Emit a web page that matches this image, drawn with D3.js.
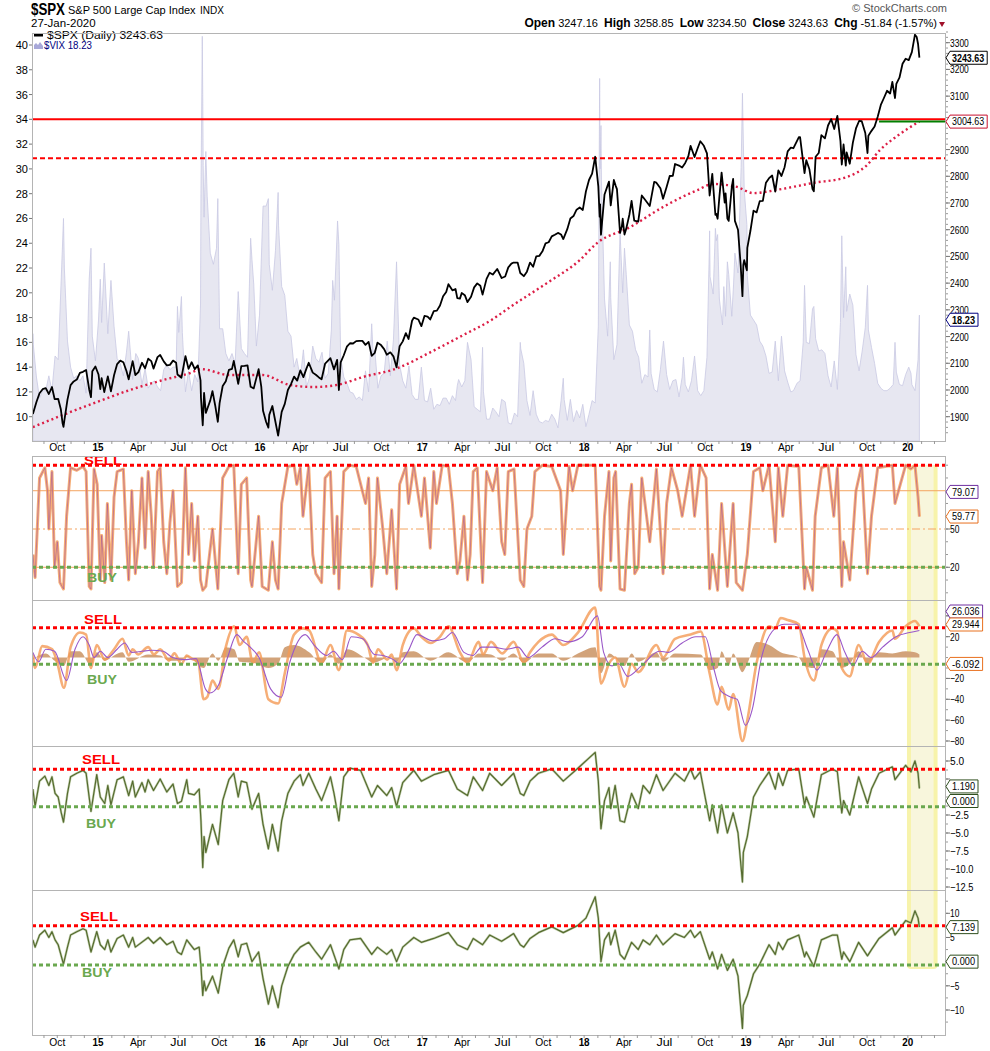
<!DOCTYPE html>
<html>
<head>
<meta charset="utf-8">
<script src="https://cdnjs.cloudflare.com/ajax/libs/d3/7.8.5/d3.min.js"></script>
<style>
  body { margin: 0; background: #fff; }
  svg { display: block; }
  text { font-family: "Liberation Sans", Arial, sans-serif; }
</style>
</head>
<body>
<svg id="chart"></svg>
<script>
// ---- data (dates as yy-mm-dd) ----
const spx = [
["14-08-07",1910],["14-08-15",1955],["14-08-22",1988],["14-08-29",2003],["14-09-05",2007],["14-09-12",1985],["14-09-19",2011],["14-09-25",1966],["14-10-03",1967],["14-10-09",1928],["14-10-13",1875],["14-10-15",1862],["14-10-17",1886],["14-10-24",1964],["14-10-31",2018],["14-11-07",2032],["14-11-14",2039],["14-11-21",2064],["14-11-28",2068],["14-12-05",2075],["14-12-12",2002],["14-12-16",1973],["14-12-19",2070],["14-12-26",2088],
["15-01-02",2058],["15-01-06",2003],["15-01-09",2044],["15-01-15",1992],["15-01-23",2051],["15-01-30",1995],["15-02-06",2055],["15-02-13",2097],["15-02-20",2110],["15-02-27",2104],["15-03-06",2071],["15-03-11",2040],["15-03-20",2108],["15-03-26",2056],["15-04-02",2067],["15-04-10",2102],["15-04-17",2081],["15-04-24",2117],["15-05-01",2108],["15-05-06",2080],["15-05-15",2123],["15-05-21",2131],["15-05-29",2107],["15-06-05",2092],["15-06-12",2094],["15-06-19",2110],["15-06-26",2102],["15-06-29",2058],["15-07-08",2046],["15-07-17",2127],["15-07-24",2079],["15-07-31",2104],["15-08-07",2078],["15-08-14",2092],["15-08-20",2036],["15-08-21",1971],["15-08-25",1868],["15-08-28",1989],["15-09-01",1914],["15-09-11",1961],["15-09-16",1996],["15-09-22",1943],["15-09-28",1881],["15-10-02",1951],["15-10-09",2015],["15-10-16",2033],["15-10-23",2075],["15-10-30",2079],["15-11-03",2109],["15-11-13",2023],["15-11-20",2089],["15-11-27",2090],["15-12-04",2092],["15-12-11",2012],["15-12-18",2006],["15-12-29",2078],
["16-01-04",2013],["16-01-08",1922],["16-01-15",1880],["16-01-20",1859],["16-01-22",1907],["16-01-29",1940],["16-02-05",1880],["16-02-11",1829],["16-02-19",1918],["16-02-26",1948],["16-03-04",2000],["16-03-11",2022],["16-03-18",2050],["16-03-25",2035],["16-04-01",2073],["16-04-08",2048],["16-04-15",2081],["16-04-20",2102],["16-04-29",2065],["16-05-06",2057],["16-05-13",2047],["16-05-19",2040],["16-05-27",2099],["16-06-08",2119],["16-06-16",2077],["16-06-23",2113],["16-06-27",2000],["16-07-01",2103],["16-07-08",2130],["16-07-15",2162],["16-07-22",2175],["16-07-29",2174],["16-08-05",2183],["16-08-12",2184],["16-08-19",2184],["16-08-26",2169],["16-09-02",2180],["16-09-09",2128],["16-09-16",2139],["16-09-22",2177],["16-09-30",2168],["16-10-07",2153],["16-10-13",2132],["16-10-21",2141],["16-10-28",2126],["16-11-04",2085],["16-11-11",2164],["16-11-18",2182],["16-11-25",2213],["16-12-01",2191],["16-12-09",2259],["16-12-13",2271],["16-12-23",2264],["16-12-30",2239],
["17-01-06",2277],["17-01-13",2275],["17-01-19",2264],["17-01-27",2295],["17-02-03",2297],["17-02-10",2316],["17-02-17",2351],["17-02-24",2367],["17-03-01",2396],["17-03-10",2373],["17-03-17",2378],["17-03-21",2344],["17-03-27",2342],["17-03-31",2363],["17-04-07",2355],["17-04-13",2329],["17-04-21",2349],["17-04-28",2384],["17-05-05",2399],["17-05-12",2390],["17-05-17",2357],["17-05-26",2416],["17-06-02",2439],["17-06-09",2432],["17-06-19",2453],["17-06-29",2419],["17-07-07",2425],["17-07-14",2459],["17-07-21",2473],["17-07-26",2477],["17-08-04",2477],["17-08-10",2438],["17-08-18",2426],["17-08-25",2443],["17-09-01",2477],["17-09-08",2461],["17-09-15",2500],["17-09-22",2502],["17-09-29",2519],["17-10-06",2549],["17-10-13",2553],["17-10-20",2575],["17-10-27",2581],["17-11-03",2588],["17-11-10",2582],["17-11-15",2565],["17-11-24",2602],["17-12-01",2642],["17-12-08",2651],["17-12-15",2675],["17-12-22",2683],["17-12-29",2674],
["18-01-05",2743],["18-01-12",2786],["18-01-19",2810],["18-01-26",2873],["18-02-02",2762],["18-02-05",2649],["18-02-06",2695],["18-02-08",2581],["18-02-16",2732],["18-02-26",2780],["18-03-02",2691],["18-03-09",2786],["18-03-13",2765],["18-03-16",2752],["18-03-23",2588],["18-03-27",2612],["18-03-29",2641],["18-04-02",2582],["18-04-06",2604],["18-04-13",2656],["18-04-18",2708],["18-04-24",2634],["18-05-03",2630],["18-05-11",2728],["18-05-18",2713],["18-05-29",2689],["18-06-08",2779],["18-06-13",2776],["18-06-22",2755],["18-06-28",2716],["18-07-06",2760],["18-07-13",2801],["18-07-20",2802],["18-07-25",2846],["18-08-03",2840],["18-08-10",2833],["18-08-17",2850],["18-08-24",2875],["18-08-29",2914],["18-09-07",2872],["18-09-14",2905],["18-09-20",2931],["18-09-28",2914],["18-10-05",2886],["18-10-11",2728],["18-10-17",2809],["18-10-24",2656],["18-10-26",2659],["18-10-29",2641],["18-11-02",2723],["18-11-07",2814],["18-11-14",2701],["18-11-16",2736],["18-11-20",2642],["18-11-23",2633],["18-11-30",2760],["18-12-03",2790],["18-12-07",2633],["18-12-14",2600],["18-12-20",2467],["18-12-24",2351],["18-12-26",2468],["18-12-28",2486],
["19-01-03",2448],["19-01-04",2532],["19-01-11",2596],["19-01-18",2671],["19-01-25",2665],["19-02-01",2707],["19-02-08",2708],["19-02-15",2776],["19-02-22",2793],["19-03-01",2803],["19-03-08",2743],["19-03-15",2822],["19-03-22",2801],["19-03-29",2834],["19-04-05",2893],["19-04-12",2907],["19-04-18",2905],["19-04-30",2946],["19-05-03",2946],["19-05-13",2812],["19-05-17",2860],["19-05-24",2826],["19-05-31",2752],["19-06-03",2744],["19-06-07",2873],["19-06-14",2887],["19-06-20",2954],["19-06-28",2942],["19-07-05",2990],["19-07-12",3014],["19-07-19",2977],["19-07-26",3026],["19-08-02",2932],["19-08-05",2844],["19-08-09",2919],["19-08-14",2840],["19-08-16",2889],["19-08-23",2847],["19-08-30",2926],["19-09-06",2979],["19-09-13",3007],["19-09-19",3006],["19-09-27",2962],["19-10-02",2887],["19-10-04",2952],["19-10-11",2970],["19-10-18",2986],["19-10-25",3023],["19-11-01",3067],["19-11-08",3093],["19-11-15",3120],["19-11-22",3110],["19-11-27",3153],["19-12-03",3093],["19-12-06",3146],["19-12-13",3169],["19-12-20",3221],["19-12-27",3240],
["20-01-03",3235],["20-01-10",3265],["20-01-17",3330],["20-01-21",3321],["20-01-24",3295],["20-01-27",3244]
];

const spxMa200 = [
["14-08-07",1861],["14-10-13",1906],["14-12-29",1955],["15-03-14",2000],["15-05-27",2037],["15-07-27",2063],["15-08-22",2078],["15-10-24",2056],["16-01-07",2056],["16-03-08",2019],["16-04-29",2011],["16-06-23",2019],["16-08-21",2049],["16-11-05",2081],["17-01-19",2141],["17-04-04",2206],["17-06-04",2260],["17-07-25",2318],["17-10-09",2400],["17-12-22",2486],["18-01-30",2550],["18-04-15",2610],["18-06-28",2685],["18-09-13",2748],["18-10-19",2771],["18-12-12",2760],["19-01-17",2737],["19-03-18",2751],["19-06-01",2775],["19-08-16",2797],["19-10-01",2842],["19-10-30",2898],["19-12-08",2951],["20-01-27",3005]
];

const vix = [
["14-08-07",16.7],["14-08-08",15.8],["14-08-15",13.2],["14-08-22",11.5],["14-08-29",12.1],["14-09-05",12.1],["14-09-12",13.3],["14-09-19",12.1],["14-09-26",14.9],["14-10-03",14.6],["14-10-10",21.2],["14-10-15",26.0],["14-10-17",22.0],["14-10-24",16.1],["14-10-31",14.0],["14-11-07",13.1],["14-11-14",13.3],["14-11-21",12.9],["14-11-28",13.3],["14-12-05",11.9],["14-12-12",21.1],["14-12-16",23.6],["14-12-19",16.5],["14-12-26",14.5],
["15-01-02",17.8],["15-01-06",21.1],["15-01-09",17.6],["15-01-15",22.4],["15-01-23",16.7],["15-01-30",21.0],["15-02-06",17.3],["15-02-13",14.7],["15-02-20",14.3],["15-02-27",13.3],["15-03-06",15.2],["15-03-11",16.9],["15-03-20",13.0],["15-03-27",15.1],["15-04-02",14.7],["15-04-10",12.6],["15-04-17",13.9],["15-04-24",12.3],["15-05-01",12.7],["15-05-08",12.9],["15-05-15",12.4],["15-05-22",12.1],["15-05-29",13.8],["15-06-05",14.2],["15-06-12",13.8],["15-06-19",14.0],["15-06-26",14.0],["15-06-29",18.9],["15-07-02",16.8],["15-07-08",19.7],["15-07-10",16.8],["15-07-17",12.0],["15-07-24",13.7],["15-07-31",12.1],["15-08-07",13.4],["15-08-14",12.8],["15-08-20",19.1],["15-08-21",28.0],["15-08-24",40.7],["15-08-25",36.0],["15-08-26",30.3],["15-08-28",26.1],["15-09-01",31.4],["15-09-04",27.8],["15-09-11",23.2],["15-09-18",22.3],["15-09-25",23.6],["15-09-28",27.6],["15-10-02",17.1],["15-10-09",17.1],["15-10-16",15.1],["15-10-23",14.5],["15-10-30",15.1],["15-11-06",14.3],["15-11-13",20.1],["15-11-20",15.5],["15-11-27",15.1],["15-12-04",14.8],["15-12-11",24.4],["15-12-14",22.7],["15-12-18",20.7],["15-12-24",15.7],["15-12-31",18.2],
["16-01-08",27.0],["16-01-15",27.0],["16-01-20",27.6],["16-01-22",22.3],["16-01-29",20.2],["16-02-05",23.4],["16-02-11",28.1],["16-02-12",25.4],["16-02-19",20.5],["16-02-26",19.8],["16-03-04",16.9],["16-03-11",16.5],["16-03-18",14.0],["16-03-24",14.7],["16-04-01",13.1],["16-04-08",15.4],["16-04-15",12.4],["16-04-22",13.2],["16-04-29",15.7],["16-05-06",14.7],["16-05-13",14.4],["16-05-20",15.2],["16-05-27",13.1],["16-06-03",13.5],["16-06-10",17.0],["16-06-13",21.0],["16-06-17",19.4],["16-06-24",25.8],["16-06-27",23.9],["16-07-01",14.8],["16-07-08",13.2],["16-07-15",12.7],["16-07-22",12.0],["16-07-29",11.9],["16-08-05",11.4],["16-08-12",11.6],["16-08-19",11.3],["16-08-26",13.7],["16-09-02",12.0],["16-09-09",17.5],["16-09-12",15.2],["16-09-16",15.4],["16-09-23",12.3],["16-09-30",13.3],["16-10-07",13.5],["16-10-14",16.1],["16-10-21",13.3],["16-10-28",16.2],["16-11-04",22.5],["16-11-11",14.2],["16-11-18",12.9],["16-11-25",12.3],["16-12-02",14.1],["16-12-09",11.8],["16-12-16",11.4],["16-12-23",11.4],["16-12-30",14.0],
["17-01-06",11.3],["17-01-13",11.2],["17-01-20",12.3],["17-01-27",10.6],["17-02-03",11.0],["17-02-10",10.9],["17-02-17",11.5],["17-02-24",11.5],["17-03-03",11.0],["17-03-10",11.7],["17-03-17",11.3],["17-03-21",12.5],["17-03-24",13.0],["17-03-31",12.4],["17-04-07",12.9],["17-04-13",16.0],["17-04-21",14.6],["17-04-28",10.8],["17-05-05",10.6],["17-05-12",10.4],["17-05-17",15.6],["17-05-19",12.0],["17-05-26",9.8],["17-06-02",9.8],["17-06-09",10.7],["17-06-16",10.4],["17-06-23",10.0],["17-06-29",11.4],["17-07-07",11.2],["17-07-14",9.5],["17-07-21",9.4],["17-07-28",10.3],["17-08-04",10.0],["17-08-10",16.0],["17-08-11",15.5],["17-08-18",14.3],["17-08-25",11.3],["17-09-01",10.1],["17-09-08",12.1],["17-09-15",10.2],["17-09-22",9.6],["17-09-29",9.5],["17-10-06",9.7],["17-10-13",9.6],["17-10-20",10.2],["17-10-27",9.8],["17-11-03",9.1],["17-11-10",11.3],["17-11-15",13.1],["17-11-17",11.4],["17-11-24",9.7],["17-12-01",11.4],["17-12-08",9.6],["17-12-15",10.5],["17-12-22",9.9],["17-12-29",11.0],
["18-01-05",9.2],["18-01-12",10.2],["18-01-19",11.3],["18-01-26",11.1],["18-02-02",17.3],["18-02-05",37.3],["18-02-06",30.0],["18-02-08",33.5],["18-02-09",29.1],["18-02-16",19.5],["18-02-23",16.5],["18-03-01",22.5],["18-03-02",19.6],["18-03-09",14.6],["18-03-16",15.8],["18-03-23",24.9],["18-03-29",20.0],["18-04-02",23.6],["18-04-06",21.5],["18-04-13",17.4],["18-04-20",16.9],["18-04-27",15.4],["18-05-04",14.8],["18-05-11",12.7],["18-05-18",13.4],["18-05-25",13.2],["18-05-29",17.0],["18-06-01",13.5],["18-06-08",12.2],["18-06-15",12.0],["18-06-22",13.8],["18-06-29",16.1],["18-07-06",13.4],["18-07-13",12.2],["18-07-20",12.9],["18-07-27",13.0],["18-08-03",11.6],["18-08-10",13.2],["18-08-13",14.8],["18-08-17",12.6],["18-08-24",12.0],["18-08-31",12.9],["18-09-07",14.9],["18-09-14",12.1],["18-09-21",11.7],["18-09-28",12.1],["18-10-05",14.8],["18-10-10",23.0],["18-10-11",25.0],["18-10-12",21.3],["18-10-19",19.9],["18-10-24",25.2],["18-10-26",24.2],["18-10-29",24.7],["18-11-02",19.5],["18-11-09",17.4],["18-11-12",20.5],["18-11-16",18.1],["18-11-20",22.5],["18-11-23",21.5],["18-11-30",18.1],["18-12-04",20.7],["18-12-07",23.2],["18-12-14",21.6],["18-12-21",30.1],["18-12-24",36.1],["18-12-28",28.3],
["19-01-03",25.5],["19-01-04",21.4],["19-01-11",18.2],["19-01-18",17.8],["19-01-25",17.4],["19-02-01",16.1],["19-02-08",15.7],["19-02-15",14.9],["19-02-22",13.5],["19-03-01",13.6],["19-03-08",16.1],["19-03-15",12.9],["19-03-22",16.5],["19-03-29",13.7],["19-04-05",12.8],["19-04-12",12.0],["19-04-18",12.1],["19-04-26",12.7],["19-05-03",12.9],["19-05-10",16.0],["19-05-13",20.6],["19-05-17",16.0],["19-05-24",15.9],["19-05-31",18.7],["19-06-03",18.9],["19-06-07",16.3],["19-06-14",15.3],["19-06-21",15.4],["19-06-28",15.1],["19-07-05",13.3],["19-07-12",12.4],["19-07-19",14.5],["19-07-26",12.2],["19-08-02",17.6],["19-08-05",24.6],["19-08-09",18.0],["19-08-14",22.1],["19-08-16",18.5],["19-08-23",19.9],["19-08-30",19.0],["19-09-06",15.0],["19-09-13",13.7],["19-09-20",15.3],["19-09-27",17.2],["19-10-02",20.6],["19-10-04",17.0],["19-10-11",15.6],["19-10-18",14.3],["19-10-25",12.7],["19-11-01",12.3],["19-11-08",12.1],["19-11-15",12.1],["19-11-22",12.3],["19-11-29",12.6],["19-12-03",16.0],["19-12-06",13.6],["19-12-13",12.6],["19-12-20",12.5],["19-12-27",13.4],
["20-01-03",14.0],["20-01-08",13.5],["20-01-10",12.6],["20-01-17",12.1],["20-01-24",14.6],["20-01-27",18.2]
];

// panel 2 oscillator (0-100)
const osc = [
["14-08-07",30],["14-08-12",12],["14-08-22",90],["14-09-03",98],["14-09-09",80],["14-09-12",50],["14-09-19",95],["14-09-25",20],["14-10-01",40],["14-10-07",8],["14-10-15",3],["14-10-22",60],["14-10-31",98],["14-11-14",96],["14-11-28",99],["14-12-05",95],["14-12-12",5],["14-12-16",3],["14-12-23",97],["14-12-30",85],
["15-01-06",10],["15-01-09",45],["15-01-16",8],["15-01-22",70],["15-01-30",10],["15-02-06",75],["15-02-13",95],["15-02-27",97],["15-03-06",40],["15-03-11",10],["15-03-18",80],["15-03-26",15],["15-04-02",40],["15-04-10",90],["15-04-17",35],["15-04-24",95],["15-05-01",60],["15-05-06",20],["15-05-15",95],["15-05-21",98],["15-05-29",40],["15-06-05",15],["15-06-12",55],["15-06-19",80],["15-06-29",5],["15-07-08",8],["15-07-17",98],["15-07-24",30],["15-07-31",70],["15-08-06",25],["15-08-14",60],["15-08-20",10],["15-08-25",2],["15-09-01",5],["15-09-16",50],["15-09-28",3],["15-10-09",90],["15-10-23",99],["15-11-03",100],["15-11-13",15],["15-11-20",85],["15-12-02",90],["15-12-11",10],["15-12-14",5],["15-12-29",60],
["16-01-06",5],["16-01-20",2],["16-01-29",40],["16-02-05",10],["16-02-11",3],["16-02-19",70],["16-03-04",99],["16-03-18",100],["16-03-24",85],["16-04-01",98],["16-04-07",60],["16-04-20",99],["16-04-29",30],["16-05-06",15],["16-05-19",8],["16-05-27",90],["16-06-08",95],["16-06-16",15],["16-06-23",60],["16-06-27",3],["16-07-08",95],["16-07-22",100],["16-08-05",99],["16-08-26",70],["16-09-02",90],["16-09-09",5],["16-09-16",30],["16-09-22",90],["16-10-04",50],["16-10-13",15],["16-10-24",65],["16-11-04",3],["16-11-11",85],["16-11-25",99],["16-12-01",70],["16-12-13",100],["16-12-30",60],
["17-01-06",90],["17-01-19",35],["17-01-27",95],["17-02-02",70],["17-02-15",100],["17-03-01",99],["17-03-10",70],["17-03-21",15],["17-03-27",25],["17-04-05",60],["17-04-13",10],["17-04-19",30],["17-04-26",95],["17-05-05",98],["17-05-17",8],["17-05-26",95],["17-06-09",80],["17-06-19",98],["17-06-29",40],["17-07-06",30],["17-07-14",95],["17-07-27",97],["17-08-10",10],["17-08-18",5],["17-08-25",50],["17-09-05",60],["17-09-12",95],["17-09-29",100],["17-10-20",99],["17-11-09",80],["17-11-15",30],["17-11-28",99],["17-12-06",80],["17-12-18",100],
["18-01-26",100],["18-02-05",5],["18-02-08",2],["18-02-16",60],["18-02-26",95],["18-03-02",25],["18-03-09",90],["18-03-13",95],["18-03-23",3],["18-04-02",2],["18-04-13",70],["18-04-18",85],["18-04-25",15],["18-05-03",20],["18-05-11",90],["18-05-29",40],["18-06-13",97],["18-06-28",15],["18-07-06",70],["18-07-17",98],["18-07-31",80],["18-08-10",60],["18-08-29",100],["18-09-07",60],["18-09-20",100],["18-10-03",90],["18-10-11",3],["18-10-17",30],["18-10-29",2],["18-11-07",70],["18-11-20",5],["18-12-03",70],["18-12-10",8],["18-12-24",2],
["19-01-04",30],["19-01-18",95],["19-02-01",98],["19-02-08",80],["19-02-22",100],["19-03-08",40],["19-03-15",98],["19-03-25",60],["19-04-05",100],["19-04-30",99],["19-05-13",3],["19-05-17",20],["19-05-31",2],["19-06-06",60],["19-06-20",98],["19-07-05",100],["19-07-18",60],["19-07-26",98],["19-08-05",5],["19-08-09",40],["19-08-23",10],["19-09-06",80],["19-09-19",100],["19-10-02",15],["19-10-11",60],["19-10-25",98],["19-11-27",100],["19-12-03",70],["19-12-27",100],
["20-01-08",97],["20-01-17",100],["20-01-24",75],["20-01-27",59.77]
];

// panel 3: line, signal and histogram
const macd = [
["14-08-07",3],["14-08-12",-10],["14-08-28",11],["14-09-19",8],["14-10-01",-5],["14-10-16",-29],["14-10-31",10],["14-11-21",24],["14-12-05",22],["14-12-16",-10],["14-12-29",12],["15-01-16",-2],["15-02-06",8],["15-02-25",18],["15-03-11",2],["15-03-20",8],["15-04-01",3],["15-04-24",10],["15-05-07",3],["15-05-21",8],["15-06-10",-3],["15-06-22",4],["15-07-08",-6],["15-07-20",2],["15-08-04",-2],["15-08-14",-3],["15-08-27",-40],["15-09-04",-38],["15-09-16",-22],["15-09-29",-30],["15-10-16",10],["15-11-04",30],["15-11-16",12],["15-12-02",20],["15-12-16",-5],["15-12-30",5],["16-01-20",-40],["16-02-11",-44],["16-02-26",-15],["16-03-18",22],["16-04-07",28],["16-04-21",26],["16-05-19",-5],["16-06-08",12],["16-06-27",-12],["16-07-15",26],["16-08-10",22],["16-08-31",12],["16-09-12",-5],["16-09-23",8],["16-10-14",-2],["16-10-24",3],["16-11-04",-12],["16-11-18",12],["16-12-13",28],["16-12-30",20],["17-01-20",14],["17-02-10",20],["17-03-01",30],["17-03-27",5],["17-04-13",-5],["17-05-08",15],["17-05-18",3],["17-06-05",15],["17-06-30",4],["17-07-26",15],["17-08-18",-5],["17-09-01",5],["17-09-20",15],["17-10-20",22],["17-11-15",12],["17-12-18",24],["18-01-26",48],["18-02-08",-25],["18-02-27",-5],["18-03-12",0],["18-04-02",-28],["18-04-18",-6],["18-05-03",-14],["18-06-13",12],["18-06-28",0],["18-07-25",18],["18-08-29",22],["18-09-21",25],["18-10-11",-15],["18-10-29",-45],["18-11-07",-28],["18-11-23",-50],["18-12-03",-35],["18-12-24",-80],["19-01-04",-60],["19-01-25",-5],["19-02-22",30],["19-03-08",28],["19-03-20",38],["19-04-05",36],["19-04-30",32],["19-05-13",0],["19-06-03",-22],["19-06-20",12],["19-07-15",28],["19-07-26",25],["19-08-05",-10],["19-08-23",-18],["19-09-12",12],["19-10-02",-6],["19-10-28",15],["19-11-27",26],["19-12-03",18],["19-12-27",30],["20-01-17",35],["20-01-27",29.9]
];
const macdSignal = [
["14-08-07",5],["14-08-20",-4],["14-09-05",8],["14-09-25",6],["14-10-22",-22],["14-11-10",8],["14-11-28",20],["14-12-12",12],["14-12-23",0],["15-01-06",6],["15-01-23",0],["15-02-13",8],["15-03-02",14],["15-03-18",5],["15-04-10",6],["15-05-01",7],["15-05-28",6],["15-06-18",0],["15-07-14",-2],["15-08-10",-1],["15-08-31",-30],["15-09-10",-34],["15-09-30",-26],["15-10-20",0],["15-11-10",22],["15-11-24",16],["15-12-10",10],["15-12-30",0],["16-01-25",-30],["16-02-18",-38],["16-03-08",-5],["16-04-12",22],["16-05-02",12],["16-05-30",2],["16-06-15",6],["16-07-05",-2],["16-07-25",20],["16-08-20",18],["16-09-15",3],["16-10-05",2],["16-10-28",-2],["16-11-10",-6],["16-11-30",6],["16-12-20",22],["17-01-25",16],["17-02-20",18],["17-03-10",24],["17-04-05",5],["17-04-25",2],["17-05-15",10],["17-06-10",10],["17-07-10",8],["17-08-05",10],["17-08-28",0],["17-09-28",10],["17-10-28",18],["17-11-25",15],["17-12-28",20],["18-01-31",40],["18-02-14",5],["18-03-05",-8],["18-03-20",-6],["18-04-09",-18],["18-05-10",-8],["18-06-20",6],["18-07-10",5],["18-08-10",14],["18-09-10",20],["18-10-01",20],["18-10-20",-10],["18-11-05",-32],["18-11-28",-38],["18-12-12",-40],["18-12-31",-65],["19-01-15",-50],["19-02-05",0],["19-03-01",25],["19-03-28",32],["19-04-25",32],["19-05-20",8],["19-06-10",-12],["19-07-01",5],["19-07-25",22],["19-08-12",5],["19-08-30",-8],["19-09-20",6],["19-10-10",0],["19-11-05",10],["19-12-05",20],["20-01-05",24],["20-01-27",26]
];
const macdHist = [
["14-08-07",-2],["14-08-20",2],["14-09-05",4],["14-09-25",-3],["14-10-16",-8],["14-10-31",6],["14-11-21",6],["14-12-16",-8],["14-12-29",5],["15-01-16",-3],["15-02-06",2],["15-02-25",5],["15-03-11",-4],["15-04-24",3],["15-05-21",2],["15-06-10",-3],["15-07-08",-3],["15-07-20",2],["15-08-27",-10],["15-09-16",4],["15-09-29",-3],["15-10-16",10],["15-11-04",8],["15-11-16",-4],["15-12-16",-5],["16-01-20",-10],["16-02-11",-6],["16-02-26",10],["16-03-18",12],["16-04-21",5],["16-05-19",-6],["16-06-08",3],["16-06-27",-6],["16-07-15",8],["16-08-31",-2],["16-09-12",-5],["16-10-24",1],["16-11-04",-5],["16-11-18",5],["16-12-13",6],["17-01-20",-3],["17-03-01",5],["17-04-13",-5],["17-05-08",4],["17-06-05",3],["17-06-30",-3],["17-07-26",4],["17-08-18",-5],["17-09-20",4],["17-10-20",4],["17-11-15",-3],["17-12-18",4],["18-01-26",10],["18-02-08",-15],["18-02-27",4],["18-04-02",-8],["18-04-18",4],["18-05-03",-4],["18-06-13",5],["18-06-28",-4],["18-07-25",4],["18-09-21",3],["18-10-11",-12],["18-10-29",-10],["18-11-07",6],["18-11-23",-8],["18-12-03",4],["18-12-24",-14],["19-01-04",-6],["19-01-25",15],["19-02-22",12],["19-03-20",5],["19-04-30",0],["19-05-13",-8],["19-06-03",-10],["19-06-20",8],["19-07-15",6],["19-08-05",-10],["19-08-23",-6],["19-09-12",6],["19-10-02",-6],["19-10-28",5],["19-11-27",4],["19-12-27",6],["20-01-17",5],["20-01-27",3]
];

// panel 4
const osc4 = [
["14-08-07",1.1],["14-08-12",-1.3],["14-08-22",2.2],["14-09-03",2.9],["14-09-12",1.6],["14-09-19",2.8],["14-09-26",0.5],["14-10-03",0],["14-10-10",-2.2],["14-10-15",-3.5],["14-10-24",0.5],["14-10-31",2.8],["14-11-14",3.3],["14-11-28",3.7],["14-12-05",3.3],["14-12-16",-2],["14-12-29",3.1],
["15-01-06",0],["15-01-16",-0.9],["15-01-23",1.6],["15-01-30",-1.1],["15-02-13",2.4],["15-02-27",2.8],["15-03-11",0.2],["15-03-20",2.2],["15-03-26",0],["15-04-10",2],["15-04-17",0.7],["15-04-24",2.4],["15-05-06",0.9],["15-05-21",2.5],["15-06-05",0.7],["15-06-19",1.8],["15-06-29",-0.9],["15-07-08",-0.6],["15-07-20",2.4],["15-07-24",0.5],["15-08-06",0.3],["15-08-17",1.1],["15-08-21",-3.3],["15-08-25",-9.8],["15-08-28",-5.5],["15-09-01",-7.7],["15-09-16",-3.8],["15-09-29",-6.6],["15-10-09",-0.5],["15-10-23",2.4],["15-11-03",3.3],["15-11-13",0],["15-11-20",2.2],["15-12-02",2],["15-12-14",-1.7],["15-12-29",0.5],
["16-01-08",-3.8],["16-01-20",-7.2],["16-01-29",-3.8],["16-02-11",-7.5],["16-02-19",-3.3],["16-03-04",0.5],["16-03-18",2.2],["16-04-01",3.1],["16-04-07",1.6],["16-04-20",3.3],["16-05-06",1.1],["16-05-19",-0.5],["16-06-08",2.8],["16-06-16",0.5],["16-06-27",-3.3],["16-07-08",2.8],["16-07-22",4],["16-08-15",3.7],["16-09-09",0],["16-09-22",1.6],["16-10-13",0.2],["16-10-24",1.3],["16-11-04",-1.3],["16-11-18",2],["16-12-13",3.7],["16-12-30",2.2],
["17-01-27",3.1],["17-03-01",3.7],["17-03-21",1.1],["17-04-13",0.2],["17-04-26",2.8],["17-05-17",0.9],["17-06-02",3.3],["17-06-29",1.6],["17-07-26",3.3],["17-08-10",0.5],["17-08-18",0.2],["17-09-01",2.2],["17-09-20",3.3],["17-10-20",3.9],["17-11-15",2.2],["17-12-18",4],
["18-01-26",6.2],["18-02-02",2.2],["18-02-08",-4.4],["18-02-16",-0.5],["18-02-26",1.3],["18-03-02",-1.6],["18-03-12",1.6],["18-03-23",-3.3],["18-04-02",-3.5],["18-04-18",0.5],["18-05-03",-1.6],["18-05-14",1.6],["18-05-29",0.5],["18-06-13",3.1],["18-06-28",0.9],["18-07-25",3.3],["18-08-15",2.2],["18-08-29",3.9],["18-09-07",2.5],["18-09-20",3.5],["18-10-11",-3.3],["18-10-17",-1.1],["18-10-29",-5],["18-11-07",-1.1],["18-11-20",-5],["18-12-03",-2.2],["18-12-14",-5],["18-12-24",-11.8],["18-12-26",-7.7],
["19-01-04",-5.5],["19-01-18",0],["19-02-01",1.6],["19-02-22",3.5],["19-03-08",1.1],["19-03-15",3.3],["19-03-25",1.6],["19-04-05",3.7],["19-04-30",3.9],["19-05-13",-1.1],["19-05-17",0],["19-06-03",-2.8],["19-06-20",3.1],["19-07-15",3.9],["19-07-26",3.5],["19-08-05",-2.2],["19-08-09",-0.5],["19-08-23",-2.5],["19-09-12",2.8],["19-10-02",-0.9],["19-10-11",1.1],["19-10-28",3.3],["19-11-27",4.2],["19-12-03",2.4],["19-12-27",4.4],
["20-01-08",3.5],["20-01-17",5],["20-01-24",3.3],["20-01-27",1.19]
];

// panel 5
const osc5 = [
["14-08-07",4.5],["14-08-12",3],["14-08-22",5.5],["14-09-03",6.5],["14-09-12",5],["14-09-19",6.2],["14-09-26",4.5],["14-10-03",3.5],["14-10-15",-0.5],["14-10-24",3],["14-10-31",5.5],["14-11-14",6.2],["14-11-28",6.8],["14-12-05",6.5],["14-12-16",2],["14-12-29",6.2],
["15-01-06",3.5],["15-01-16",2.5],["15-01-23",4.5],["15-01-30",2],["15-02-13",4.8],["15-02-27",5.5],["15-03-11",3],["15-03-20",5],["15-03-26",3],["15-04-24",5],["15-05-06",3.8],["15-05-21",5],["15-06-05",3.5],["15-06-19",4.2],["15-06-29",2],["15-07-08",1.5],["15-07-20",4.5],["15-08-06",2.5],["15-08-17",3],["15-08-21",-1],["15-08-25",-7],["15-08-28",-4],["15-09-01",-6],["15-09-16",-3],["15-09-29",-6.5],["15-10-09",-1],["15-10-23",2.8],["15-11-03",4.5],["15-11-13",1],["15-11-20",3.5],["15-12-02",3.8],["15-12-14",0],["15-12-29",2],
["16-01-08",-3.5],["16-01-20",-8.8],["16-01-29",-5],["16-02-11",-9.5],["16-02-19",-5],["16-03-04",-1],["16-03-18",1.5],["16-04-01",3],["16-04-20",4],["16-05-06",2],["16-05-19",0.5],["16-06-08",3.5],["16-06-27",-1.5],["16-07-08",2.5],["16-07-22",4.5],["16-08-15",4.8],["16-09-09",1.5],["16-09-22",3],["16-10-13",1.5],["16-10-24",2.5],["16-11-04",0],["16-11-18",3],["16-12-13",5],["16-12-30",4],
["17-01-27",4.8],["17-03-01",6],["17-03-21",3.5],["17-04-13",2.5],["17-04-26",4.8],["17-05-17",3.5],["17-06-02",5.5],["17-06-29",4.2],["17-07-26",5.8],["17-08-10",3.5],["17-08-18",3],["17-09-01",4.8],["17-09-20",6],["17-10-20",7.2],["17-11-15",6],["17-12-18",7.5],
["18-01-05",9],["18-01-26",13.4],["18-02-02",9],["18-02-08",0],["18-02-16",4.5],["18-02-26",6],["18-03-02",3.5],["18-03-12",6.5],["18-03-23",1.5],["18-04-02",0.5],["18-04-18",4],["18-05-03",2.5],["18-05-14",4.5],["18-05-29",3.5],["18-06-13",5.5],["18-06-28",3.5],["18-07-25",5.8],["18-08-15",5],["18-08-29",6.5],["18-09-07",5],["18-09-20",6.2],["18-10-11",0.5],["18-10-17",2],["18-10-29",-1.5],["18-11-07",1.5],["18-11-20",-1.8],["18-12-03",0.5],["18-12-14",-3],["18-12-24",-13.8],["18-12-26",-9],
["19-01-04",-7],["19-01-18",-2.5],["19-02-01",-0.5],["19-02-22",3.5],["19-03-08",1.5],["19-03-15",4],["19-03-25",2.5],["19-04-05",4.5],["19-04-30",5.5],["19-05-13",1],["19-05-17",2],["19-06-03",-1],["19-06-20",4.5],["19-07-15",5.5],["19-07-26",5.5],["19-08-05",0.5],["19-08-09",2],["19-08-23",0],["19-09-12",4],["19-10-02",1.2],["19-10-11",2.5],["19-10-28",4.8],["19-11-27",7],["19-12-03",5.5],["19-12-27",8.5],
["20-01-08",8],["20-01-17",10.5],["20-01-24",9],["20-01-27",7.139]
];

// horizontal signal levels
const vixLevels = [34];              // solid red on the VIX axis
const spxLevels = [2867];            // dotted red on the SPX axis
const spxBreakout = ["19-10-28", 3004.63];
const sellBuy = [[100, 20], [28.5, -6.5], [3.85, -1.35], [7.4, -0.7]];

// axis ticks
const vixTicks = d3.range(10, 41, 2);
const spxTicks = d3.range(1900, 3301, 100);
const p2Ticks = [50, 20];
const p3Ticks = [40, 20, -20, -40, -60, -80];
const p4Ticks = [5, 2.5, -2.5, -5, -7.5, -10, -12.5];
const p5Ticks = [10, 5, -5, -10];

const parse = d3.timeParse("%y-%m-%d");
const W = 990, H = 1051;
const L = 32, R = 946;

let svg = d3.select("#chart").attr("width", W).attr("height", H);
svg.append("rect").attr("width", W).attr("height", H).attr("fill", "#fff");

let x = d3.scaleTime()
    .domain([parse("14-08-05"), parse("20-03-27")])
    .range([L, R]);

let ySpx = d3.scaleLinear().domain([1900, 3300]).range([416.7, 42.7]);
let yVix = d3.scaleLinear().domain([10, 40]).range([416.7, 45]);
let y2 = d3.scaleLinear().domain([0, 100]).range([592.8, 465.2]);
let y3 = d3.scaleLinear().domain([-80, 20]).range([741, 636.7]);
let y4 = d3.scaleLinear().domain([-12.5, 5]).range([887, 761]);
let y5 = d3.scaleLinear().domain([-10, 10]).range([1010, 913.3]);

const panels = [
    { top: 33, bottom: 441 },
    { top: 456, bottom: 600 },
    { top: 600, bottom: 746 },
    { top: 746, bottom: 890 },
    { top: 890, bottom: 1035 }
];

// clip paths for each panel
let defs = svg.append("defs");
panels.forEach((p, i) => {
    defs.append("clipPath").attr("id", "clip" + i)
        .append("rect").attr("x", L).attr("y", p.top)
        .attr("width", R - L).attr("height", p.bottom - p.top);
});

function pts(arr) { return arr.map(d => [parse(d[0]), d[1]]); }

function drawLine(g, data, yScale, color, width, extra) {
    let path = g.append("path")
        .datum(pts(data))
        .attr("fill", "none")
        .attr("stroke", color)
        .attr("stroke-width", width)
        .attr("stroke-linejoin", "round")
        .attr("d", d3.line().x(d => x(d[0])).y(d => yScale(d[1])));
    if (extra) extra(path);
    return path;
}

function hline(g, y, color, width, dash, x0, x1) {
    let l = g.append("line")
        .attr("x1", x0 === undefined ? L : x0).attr("x2", x1 === undefined ? R : x1)
        .attr("y1", y).attr("y2", y)
        .attr("stroke", color).attr("stroke-width", width);
    if (dash) l.attr("stroke-dasharray", dash);
    return l;
}

// squeezed text, stockcharts uses a narrow face
function narrowText(sel, str, perChar) {
    return sel.attr("textLength", str.length * perChar).attr("lengthAdjust", "spacingAndGlyphs").text(str);
}

// ---------- header ----------
svg.append("text").attr("x", 31).attr("y", 15).attr("font-weight", "bold")
    .attr("font-size", 17).attr("textLength", 34).attr("lengthAdjust", "spacingAndGlyphs").text("$SPX");
svg.append("text").attr("x", 68).attr("y", 14).attr("font-size", 11).text("S&P 500 Large Cap Index");
svg.append("text").attr("x", 200).attr("y", 14).attr("font-size", 10).text("INDX");
svg.append("text").attr("x", 31).attr("y", 27).attr("font-size", 11.5).text("27-Jan-2020");
svg.append("text").attr("x", 947).attr("y", 12).attr("font-size", 11).attr("fill", "#555")
    .attr("text-anchor", "end").text("\u00a9 StockCharts.com");

let ohlc = svg.append("text").attr("x", 937).attr("y", 27).attr("font-size", 11)
    .attr("text-anchor", "end").attr("xml:space", "preserve");
[["Open", " 3247.16  "], ["High", " 3258.85  "], ["Low", " 3234.50  "], ["Close", " 3243.63  "], ["Chg", " -51.84 (-1.57%)"]]
    .forEach(p => {
        ohlc.append("tspan").attr("font-weight", "bold").attr("font-size", 12).text(p[0]);
        ohlc.append("tspan").text(p[1]);
    });
svg.append("path").attr("d", "M939,22 L945,22 L942,27 Z").attr("fill", "#a0102a");

// ---------- main panel ----------
let g0 = svg.append("g").attr("clip-path", "url(#clip0)");

g0.append("path")
    .datum(pts(vix))
    .attr("fill", "#e7e7f1")
    .attr("stroke", "#c9c9e3")
    .attr("stroke-width", 0.8)
    .attr("d", d3.area().x(d => x(d[0])).y0(panels[0].bottom).y1(d => yVix(d[1])));

vixLevels.forEach(v => hline(g0, yVix(v), "#ff0000", 2));
spxLevels.forEach(v => hline(g0, ySpx(v), "#ff0000", 2, "5,3"));

g0.append("path")
    .datum(pts(spxMa200))
    .attr("fill", "none")
    .attr("stroke", "#dc1e46")
    .attr("stroke-width", 2.4)
    .attr("stroke-dasharray", "2,3")
    .attr("d", d3.line().curve(d3.curveMonotoneX).x(d => x(d[0])).y(d => ySpx(d[1])));

hline(g0, ySpx(spxBreakout[1]), "#008000", 2, null, x(parse(spxBreakout[0])), R);
drawLine(g0, spx, ySpx, "#000", 1.8);

// legend
svg.append("rect").attr("x", 34).attr("y", 34).attr("width", 9).attr("height", 2.5).attr("fill", "#000");
svg.append("text").attr("x", 47).attr("y", 39).attr("font-size", 10)
    .attr("font-family", "DejaVu Sans, sans-serif").attr("textLength", 116).attr("lengthAdjust", "spacingAndGlyphs")
    .text("$SPX (Daily) 3243.63");
svg.append("path").attr("d", "M34,49 L34,45 L36,43 L38,45 L40,42 L43,46 L43,49 Z").attr("fill", "#a8a8d8");
svg.append("text").attr("x", 44).attr("y", 49).attr("font-size", 10).attr("fill", "#000080")
    .attr("font-family", "DejaVu Sans, sans-serif").attr("textLength", 48).attr("lengthAdjust", "spacingAndGlyphs")
    .text("$VIX 18.23");

// ---------- highlight box ----------
let hx0 = x(parse("19-12-30")), hx1 = x(parse("20-03-08"));
svg.append("rect").attr("x", hx0).attr("y", 465).attr("width", hx1 - hx0).attr("height", 504)
    .attr("rx", 4).attr("fill", "#f6f19c").attr("opacity", 0.85);
svg.append("rect").attr("x", hx0 + 4).attr("y", 465).attr("width", hx1 - hx0 - 8).attr("height", 502)
    .attr("fill", "#f8f6dc");

// ---------- panel 2 ----------
let g1 = svg.append("g").attr("clip-path", "url(#clip1)");
hline(g1, y2(80), "#f4a460", 1);
hline(g1, y2(50), "#f4a460", 1, "8,3,2,3");
hline(g1, y2(20), "#f4a460", 1);
drawLine(g1, osc, y2, "#f49a55", 3, p => p.attr("opacity", 0.8));
drawLine(g1, osc, y2, "#a0509a", 0.8, p => p.attr("opacity", 0.7));

// ---------- panel 3 ----------
let g2 = svg.append("g").attr("clip-path", "url(#clip2)");
g2.append("path")
    .datum(pts(macdHist))
    .attr("fill", "#d2a37a")
    .attr("d", d3.area().curve(d3.curveMonotoneX).x(d => x(d[0])).y0(y3(0)).y1(d => y3(d[1])));
g2.append("path").datum(pts(macd)).attr("fill", "none").attr("stroke", "#f49a55")
    .attr("stroke-width", 2.6).attr("opacity", 0.8)
    .attr("d", d3.line().curve(d3.curveMonotoneX).x(d => x(d[0])).y(d => y3(d[1])));
g2.append("path").datum(pts(macdSignal)).attr("fill", "none").attr("stroke", "#9a58c8")
    .attr("stroke-width", 1.1)
    .attr("d", d3.line().curve(d3.curveMonotoneX).x(d => x(d[0])).y(d => y3(d[1])));

// ---------- panel 4, 5 ----------
let g3 = svg.append("g").attr("clip-path", "url(#clip3)");
drawLine(g3, osc4, y4, "#9bb07a", 2.4, p => p.attr("opacity", 0.6));
drawLine(g3, osc4, y4, "#556b2f", 1.2);
let g4 = svg.append("g").attr("clip-path", "url(#clip4)");
drawLine(g4, osc5, y5, "#9bb07a", 2.4, p => p.attr("opacity", 0.6));
drawLine(g4, osc5, y5, "#556b2f", 1.2);

// sell / buy lines and labels
const lowerScales = [y2, y3, y4, y5];
const sellText = [[84, 465], [84, 624], [82, 764], [80, 921]];
const buyText = [[87, 582], [87, 684], [86, 828], [82, 977]];
lowerScales.forEach((s, i) => {
    hline(svg, s(sellBuy[i][0]), "#ff0000", 3, "4,3");
    hline(svg, s(sellBuy[i][1]), "#6aa84f", 3, "4,3");
    svg.append("text").attr("x", sellText[i][0]).attr("y", sellText[i][1])
        .attr("font-size", 13.5).attr("font-weight", "bold").attr("fill", "#ff0000")
        .attr("textLength", 38).attr("lengthAdjust", "spacingAndGlyphs").text("SELL");
    svg.append("text").attr("x", buyText[i][0]).attr("y", buyText[i][1])
        .attr("font-size", 13.5).attr("font-weight", "bold").attr("fill", "#6aa84f")
        .attr("textLength", 30).attr("lengthAdjust", "spacingAndGlyphs").text("BUY");
});

// ---------- panel borders ----------
panels.forEach(p => {
    svg.append("rect").attr("x", L + 0.5).attr("y", p.top + 0.5)
        .attr("width", R - L - 1).attr("height", p.bottom - p.top)
        .attr("fill", "none").attr("stroke", "#b4b4b4").attr("stroke-width", 1);
});

// ---------- value tags on the right ----------
const tags = [
    [ySpx(3243.63), "3243.63", "#000", true],
    [ySpx(3004.63), "3004.63", "#c8102e", false],
    [yVix(18.23) + 5, "18.23", "#000080", true],
    [y2(79.07), "79.07", "#7030a0", false],
    [y2(59.77), "59.77", "#e8701e", false],
    [611.5, "26.036", "#7030a0", false],
    [624.5, "29.944", "#e8701e", false],
    [y3(-6.092), "-6.092", "#e8701e", false],
    [y4(1.19) - 2, "1.190", "#2f4f1f", false],
    [y4(0) + 4, "0.000", "#2f4f1f", false],
    [y5(7.139), "7.139", "#2f4f1f", false],
    [y5(0), "0.000", "#2f4f1f", false]
];
const tagY = tags.map(t => t[0]);

// ---------- y axes ----------
function rightAxis(scale, ticks, fmt, minorStep, dom) {
    let [a, b] = dom;
    for (let v = a; v <= b + 1e-9; v += minorStep) {
        svg.append("line").attr("x1", R).attr("x2", R + 2).attr("y1", scale(v)).attr("y2", scale(v))
            .attr("stroke", "#999");
    }
    ticks.forEach(t => {
        svg.append("line").attr("x1", R).attr("x2", R + 4).attr("y1", scale(t)).attr("y2", scale(t))
            .attr("stroke", "#777");
        // label hidden under a value tag, as on the original
        if (tagY.some(ty => Math.abs(ty - scale(t)) < 8)) return;
        narrowText(svg.append("text").attr("x", R + 4).attr("y", scale(t) + 4).attr("font-size", 10.5),
            fmt(t), 4.7);
    });
}
rightAxis(ySpx, spxTicks, d3.format("d"), 20, [1840, 3340]);
rightAxis(y2, p2Ticks, d3.format("d"), 10, [0, 100]);
rightAxis(y3, p3Ticks, d3.format("d"), 10, [-80, 40]);
rightAxis(y4, p4Ticks, d3.format(".1f"), 1.25, [-12.5, 5]);
rightAxis(y5, p5Ticks, d3.format("d"), 2.5, [-12.5, 12.5]);

vixTicks.forEach(t => {
    svg.append("line").attr("x1", L - 3).attr("x2", L).attr("y1", yVix(t)).attr("y2", yVix(t)).attr("stroke", "#777");
    svg.append("text").attr("x", L - 4).attr("y", yVix(t) + 4).attr("font-size", 11)
        .attr("text-anchor", "end").text(t);
});

tags.forEach(t => {
    let y = t[0], tw = t[1].length * 4.6, w = tw + 5;
    svg.append("path")
        .attr("d", `M${R},${y} L${R + 4},${y - 6.5} L${R + 4 + w},${y - 6.5} L${R + 4 + w},${y + 6.5} L${R + 4},${y + 6.5} Z`)
        .attr("fill", "#fff").attr("stroke", t[2]).attr("stroke-width", 1);
    narrowText(svg.append("text").attr("x", R + 6).attr("y", y + 3.8)
        .attr("font-size", 10).attr("font-weight", t[3] ? "bold" : "normal"), t[1], 4.6);
});

// ---------- x axes ----------
const qTicks = d3.timeMonth.every(3).range(parse("14-10-01"), parse("20-01-02"));
const fmtTick = d => d.getMonth() === 0 ? d3.timeFormat("%y")(d) : d3.timeFormat("%b")(d);
function xAxis(yBase, yText) {
    d3.timeMonth.range(parse("14-09-01"), parse("20-04-01")).forEach(m => {
        svg.append("line").attr("x1", x(m)).attr("x2", x(m)).attr("y1", yBase).attr("y2", yBase + 3)
            .attr("stroke", "#999");
    });
    qTicks.forEach(t => {
        let s = fmtTick(t);
        svg.append("text").attr("x", x(t)).attr("y", yText)
            .attr("text-anchor", "middle").attr("font-size", 10.5)
            .attr("font-weight", t.getMonth() === 0 ? "bold" : "normal")
            .attr("textLength", s.length === 2 ? 11 : 16).attr("lengthAdjust", "spacingAndGlyphs")
            .text(s);
    });
}
xAxis(panels[0].bottom, 450.5);
xAxis(panels[4].bottom, 1046);
</script>
</body>
</html>
